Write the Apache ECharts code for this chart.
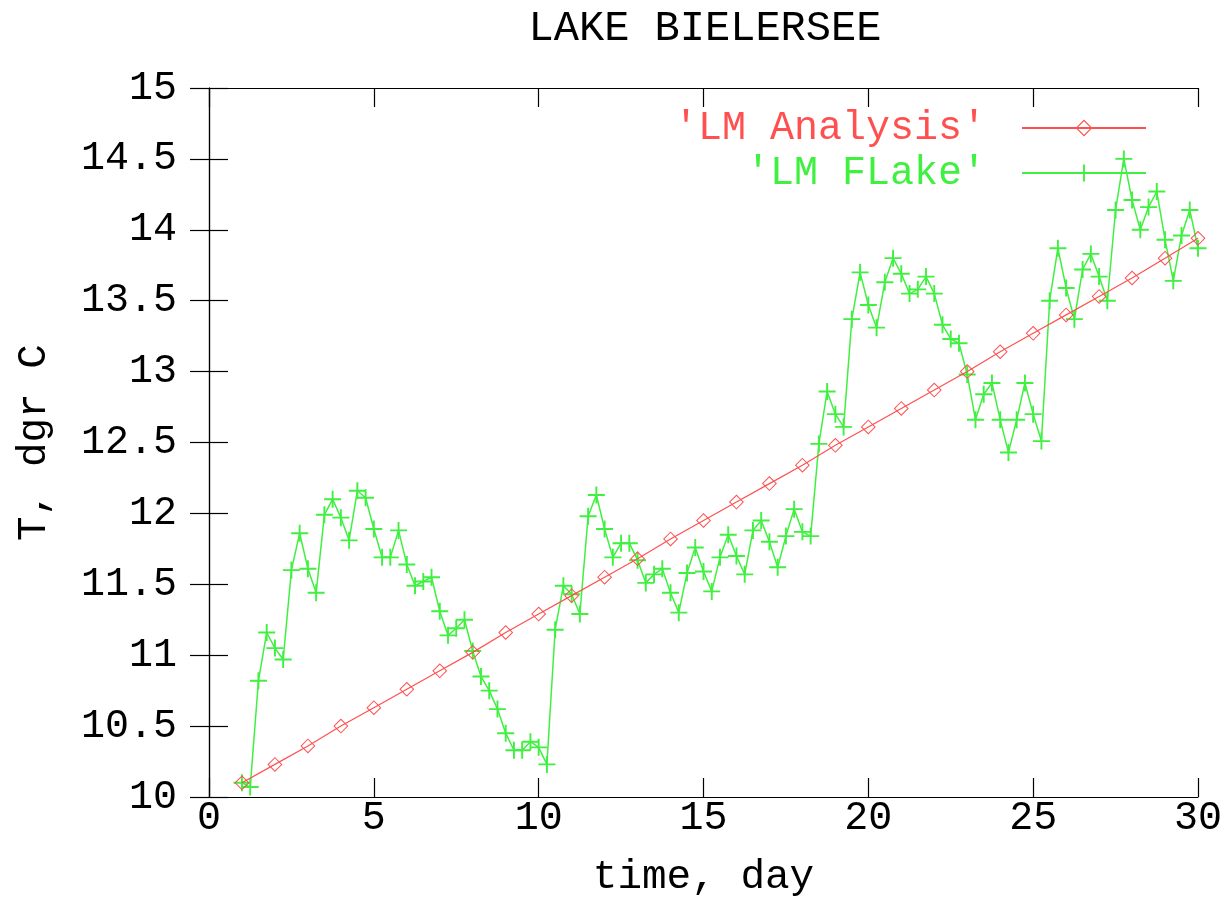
<!DOCTYPE html>
<html>
<head>
<meta charset="utf-8">
<title>LAKE BIELERSEE</title>
<script src="https://cdn.jsdelivr.net/npm/echarts@6/dist/echarts.min.js"></script>
<style>
  html, body { margin: 0; padding: 0; background: #fff; }
  #main { width: 1221px; height: 922px; }
</style>
</head>
<body>
<div id="main"></div>
<script>
// LM Analysis, one value per day
var analysisDay = [1, 2, 3, 4, 5, 6, 7, 8, 9, 10, 11, 12, 13, 14, 15,
                   16, 17, 18, 19, 20, 21, 22, 23, 24, 25, 26, 27, 28, 29, 30];
var analysisTemp = [10.10, 10.23, 10.36, 10.50, 10.63, 10.76, 10.89, 11.02, 11.16, 11.29,
                    11.42, 11.55, 11.68, 11.82, 11.95, 12.08, 12.21, 12.34, 12.48, 12.61,
                    12.74, 12.87, 13.00, 13.14, 13.27, 13.40, 13.53, 13.66, 13.80, 13.94];

// LM FLake, 6-hourly values [day, T]
var flake = [
  [1.00, 10.10], [1.25, 10.07], [1.50, 10.82], [1.75, 11.16],
  [2.00, 11.05], [2.25, 10.97], [2.50, 11.60], [2.75, 11.86],
  [3.00, 11.61], [3.25, 11.44], [3.50, 11.99], [3.75, 12.10],
  [4.00, 11.97], [4.25, 11.81], [4.50, 12.16], [4.75, 12.11],
  [5.00, 11.89], [5.25, 11.69], [5.50, 11.69], [5.75, 11.88],
  [6.00, 11.64], [6.25, 11.49], [6.50, 11.52], [6.75, 11.55],
  [7.00, 11.31], [7.25, 11.14], [7.50, 11.19], [7.75, 11.25],
  [8.00, 11.03], [8.25, 10.85], [8.50, 10.75], [8.75, 10.62],
  [9.00, 10.45], [9.25, 10.33], [9.50, 10.33], [9.75, 10.39],
  [10.00, 10.35], [10.25, 10.23], [10.50, 11.18], [10.75, 11.49],
  [11.00, 11.43], [11.25, 11.29], [11.50, 11.98], [11.75, 12.13],
  [12.00, 11.89], [12.25, 11.69], [12.50, 11.79], [12.75, 11.79],
  [13.00, 11.67], [13.25, 11.51], [13.50, 11.57], [13.75, 11.61],
  [14.00, 11.44], [14.25, 11.30], [14.50, 11.58], [14.75, 11.76],
  [15.00, 11.59], [15.25, 11.45], [15.50, 11.69], [15.75, 11.85],
  [16.00, 11.70], [16.25, 11.57], [16.50, 11.88], [16.75, 11.95],
  [17.00, 11.80], [17.25, 11.62], [17.50, 11.84], [17.75, 12.03],
  [18.00, 11.87], [18.25, 11.84], [18.50, 12.49], [18.75, 12.86],
  [19.00, 12.70], [19.25, 12.61], [19.50, 13.37], [19.75, 13.70],
  [20.00, 13.47], [20.25, 13.31], [20.50, 13.63], [20.75, 13.80],
  [21.00, 13.69], [21.25, 13.55], [21.50, 13.58], [21.75, 13.67],
  [22.00, 13.55], [22.25, 13.33], [22.50, 13.23], [22.75, 13.20],
  [23.00, 12.98], [23.25, 12.66], [23.50, 12.84], [23.75, 12.92],
  [24.00, 12.66], [24.25, 12.43], [24.50, 12.66], [24.75, 12.92],
  [25.00, 12.70], [25.25, 12.51], [25.50, 13.50], [25.75, 13.87],
  [26.00, 13.59], [26.25, 13.37], [26.50, 13.72], [26.75, 13.83],
  [27.00, 13.67], [27.25, 13.50], [27.50, 14.14], [27.75, 14.50],
  [28.00, 14.21], [28.25, 14.00], [28.50, 14.16], [28.75, 14.27],
  [29.00, 13.93], [29.25, 13.64], [29.50, 13.96], [29.75, 14.14],
  [30.00, 13.87]
];

var RED = '#ff5050';
var GREEN = '#40f040';
var FONT = 'Liberation Mono';
var FSIZE = 40;

// open diamond and thin plus, gnuplot style
var diamondPath = 'path://M8,0L16,8L8,16L0,8Z M8,1.5L1.5,8L8,14.5L14.5,8Z';
var plusPath = 'path://M0,7.1H16V8.9H0Z M7.1,0H8.9V16H7.1Z';

var chart = echarts.init(document.getElementById('main'));

var analysisData = [];
for (var i = 0; i < analysisDay.length; i++) {
  analysisData.push([analysisDay[i], analysisTemp[i]]);
}

// box-style axis: black line, inward ticks, optional labels
function boxAxis(show) {
  return {
    axisLine: { show: true, lineStyle: { color: '#000', width: 1.2 } },
    axisTick: { show: true, inside: true, length: 19, lineStyle: { color: '#000', width: 1.2 } },
    splitLine: { show: false },
    axisLabel: { show: show, color: '#000', fontFamily: FONT, fontSize: FSIZE }
  };
}

var x0 = boxAxis(true);
var x1 = boxAxis(false);
var y0 = boxAxis(true);
var y1 = boxAxis(false);

var option = {
  backgroundColor: '#fff',
  animation: false,
  title: {
    text: 'LAKE BIELERSEE',
    left: 700,
    top: 3,
    textAlign: 'center',
    textStyle: { color: '#000', fontFamily: FONT, fontSize: 42, fontWeight: 'normal' }
  },
  legend: {
    orient: 'vertical',
    right: 69,
    top: 103,
    align: 'right',
    itemWidth: 124,
    itemHeight: 21,
    itemGap: 5,
    textStyle: { fontFamily: FONT, fontSize: FSIZE, padding: [0, 31, 0, 0] },
    data: [
      { name: "'LM Analysis'", textStyle: { color: RED } },
      { name: "'LM FLake'", textStyle: { color: GREEN } }
    ]
  },
  grid: { left: 209, top: 88, right: 23, bottom: 125, containLabel: false, outerBoundsMode: 'none' },
  xAxis: [
    {
      type: 'value', position: 'bottom', min: 0, max: 30, interval: 5,
      name: 'time, day', nameLocation: 'middle', nameGap: 60,
      nameTextStyle: { color: '#000', fontFamily: FONT, fontSize: 41 },
      axisLine: x0.axisLine, axisTick: x0.axisTick, splitLine: x0.splitLine,
      axisLabel: Object.assign({ margin: 1 }, x0.axisLabel)
    },
    {
      type: 'value', position: 'top', min: 0, max: 30, interval: 5,
      axisLine: x1.axisLine, axisTick: x1.axisTick, splitLine: x1.splitLine,
      axisLabel: x1.axisLabel
    }
  ],
  yAxis: [
    {
      type: 'value', position: 'left', min: 10, max: 15, interval: 0.5,
      name: 'T, dgr C', nameLocation: 'middle', nameGap: 154, nameRotate: 90,
      nameTextStyle: { color: '#000', fontFamily: FONT, fontSize: 41 },
      axisLine: y0.axisLine, axisTick: y0.axisTick, splitLine: y0.splitLine,
      axisLabel: Object.assign({ margin: 32 }, y0.axisLabel)
    },
    {
      type: 'value', position: 'right', min: 10, max: 15, interval: 0.5,
      axisLine: y1.axisLine, axisTick: y1.axisTick, splitLine: y1.splitLine,
      axisLabel: y1.axisLabel
    }
  ],
  series: [
    {
      name: "'LM Analysis'",
      type: 'line',
      data: analysisData,
      color: RED,
      symbol: diamondPath,
      symbolSize: 15,
      showAllSymbol: true,
      lineStyle: { color: RED, width: 1.2 },
      itemStyle: { color: RED },
      z: 3
    },
    {
      name: "'LM FLake'",
      type: 'line',
      data: flake,
      color: GREEN,
      symbol: plusPath,
      symbolSize: 17,
      showAllSymbol: true,
      lineStyle: { color: GREEN, width: 1.5 },
      itemStyle: { color: GREEN },
      z: 2
    }
  ]
};

chart.setOption(option);
window.addEventListener('resize', function () {
  chart.resize();
});
</script>
</body>
</html>
